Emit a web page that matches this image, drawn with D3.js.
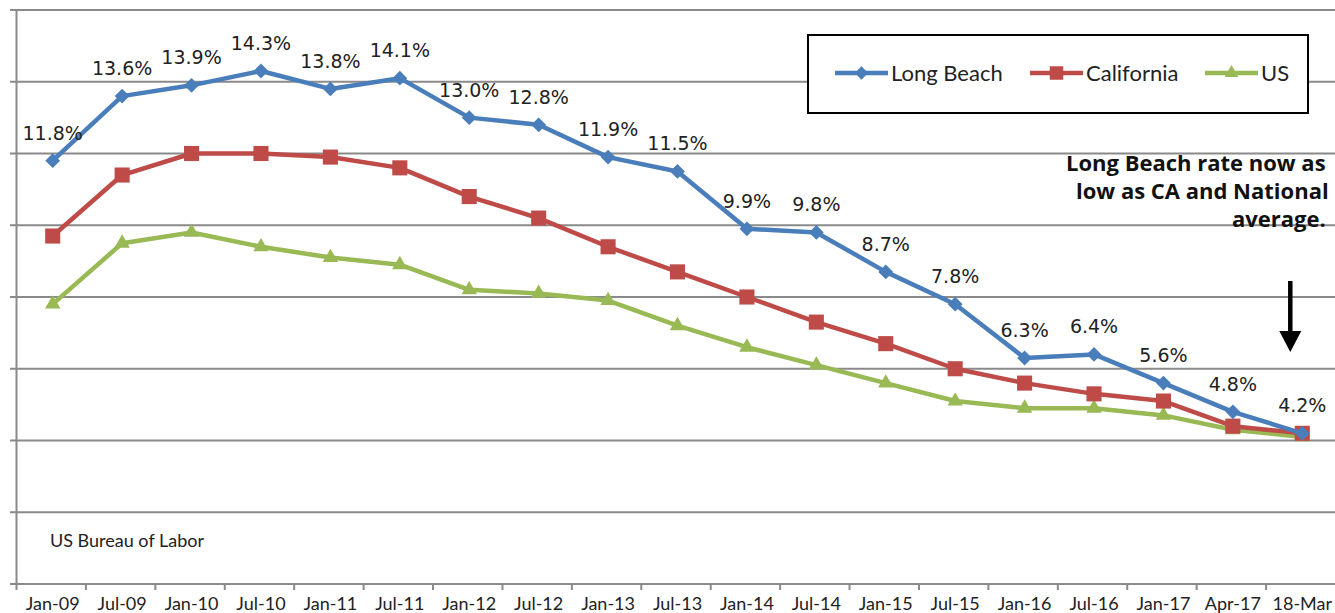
<!DOCTYPE html>
<html>
<head>
<meta charset="utf-8">
<script src="https://cdnjs.cloudflare.com/ajax/libs/d3/7.8.5/d3.min.js"></script>
<style>
  html, body { margin: 0; padding: 0; background: #fff; }
  svg { display: block; }
  .tick text { font-family: Lato, sans-serif; font-size: 18px; fill: #222; }
</style>
</head>
<body>
<div id="chart"></div>
<script>
// periods on the x axis
const periods = ['Jan-09','Jul-09','Jan-10','Jul-10','Jan-11','Jul-11','Jan-12','Jul-12','Jan-13','Jul-13',
    'Jan-14','Jul-14','Jan-15','Jul-15','Jan-16','Jul-16','Jan-17','Apr-17','18-Mar'];

// unemployment rate, %
const longBeach = [11.8,13.6,13.9,14.3,13.8,14.1,13.0,12.8,11.9,11.5,9.9,9.8,8.7,7.8,6.3,6.4,5.6,4.8,4.2];
const california = [9.7,11.4,12.0,12.0,11.9,11.6,10.8,10.2,9.4,8.7,8.0,7.3,6.7,6.0,5.6,5.3,5.1,4.4,4.2];
const us = [7.8,9.5,9.8,9.4,9.1,8.9,8.2,8.1,7.9,7.2,6.6,6.1,5.6,5.1,4.9,4.9,4.7,4.3,4.1];

const yTicks = [0,2,4,6,8,10,12,14,16];

const seriesList = [
    {name: 'Long Beach', values: longBeach, color: '#4A7EBB', symbol: d3.symbolDiamond2, size: 140},
    {name: 'California', values: california, color: '#BE4B48', symbol: d3.symbolSquare2, size: 290},
    {name: 'US', values: us, color: '#98B954', symbol: d3.symbolTriangle2, size: 170}
];

const noteLines = ['Long Beach rate now as', 'low as CA and National', 'average.'];

const width = 1335, height = 613;

const svg = d3.select('#chart').append('svg')
    .attr('width', width)
    .attr('height', height);

const x = d3.scaleBand().domain(periods).range([18, 1337]);
const y = d3.scaleLinear().domain([0, 16]).range([584, 10]);

/* gridlines */
svg.append('g')
    .selectAll('line')
    .data(yTicks.filter(d => d > 0))
    .join('line')
    .attr('x1', 10).attr('x2', width)
    .attr('y1', d => y(d)).attr('y2', d => y(d))
    .attr('stroke', '#8a8a8a')
    .attr('stroke-width', 2);

/* y axis line */
svg.append('line')
    .attr('x1', 16.5).attr('x2', 16.5)
    .attr('y1', y(16)).attr('y2', y(0))
    .attr('stroke', '#8a8a8a').attr('stroke-width', 2);

/* x axis */
const xAxis = svg.append('g')
    .attr('transform', `translate(0,${y(0)})`)
    .call(d3.axisBottom(x).tickSize(0).tickPadding(13));
xAxis.select('.domain').attr('stroke', '#8a8a8a').attr('stroke-width', 2)
    .attr('d', `M10,0H${width}`);
xAxis.append('g')
    .selectAll('line')
    .data(periods)
    .join('line')
    .attr('x1', d => x(d) - 1.5).attr('x2', d => x(d) - 1.5)
    .attr('y1', 0).attr('y2', 6)
    .attr('stroke', '#8a8a8a').attr('stroke-width', 2);

/* source */
svg.append('text')
    .attr('x', 50).attr('y', 547)
    .attr('font-family', 'Lato, sans-serif')
    .attr('font-size', 18)
    .attr('fill', '#222')
    .text('US Bureau of Labor');

const line = d3.line()
    .x((d, i) => x(periods[i]) + x.bandwidth() / 2)
    .y(d => y(d));

/* series, US drawn first so Long Beach sits on top */
seriesList.slice().reverse().forEach(s => {
    const g = svg.append('g');
    g.append('path')
        .datum(s.values)
        .attr('fill', 'none')
        .attr('stroke', s.color)
        .attr('stroke-width', 4.5)
        .attr('stroke-linejoin', 'round')
        .attr('d', line);
    g.selectAll('path.marker')
        .data(s.values)
        .join('path')
        .attr('class', 'marker')
        .attr('transform', (d, i) => `translate(${x(periods[i]) + x.bandwidth() / 2},${y(d)})`)
        .attr('d', d3.symbol(s.symbol, s.size))
        .attr('fill', s.color);
});

/* data labels for Long Beach */
svg.append('g')
    .selectAll('text')
    .data(longBeach)
    .join('text')
    .attr('x', (d, i) => x(periods[i]) + x.bandwidth() / 2)
    .attr('y', d => y(d) - 21)
    .attr('text-anchor', 'middle')
    .attr('font-family', '"DejaVu Sans", sans-serif')
    .attr('font-size', 19)
    .attr('fill', '#222')
    .text(d => d.toFixed(1) + '%');

/* legend */
const legend = svg.append('g');
legend.append('rect')
    .attr('x', 808).attr('y', 35)
    .attr('width', 500).attr('height', 78)
    .attr('fill', '#fff')
    .attr('stroke', '#000').attr('stroke-width', 2);
const legendX = [835, 1030, 1205];
seriesList.forEach((s, i) => {
    const item = legend.append('g').attr('transform', `translate(${legendX[i]},73)`);
    item.append('line')
        .attr('x1', 0).attr('x2', 53)
        .attr('stroke', s.color).attr('stroke-width', 4.5);
    item.append('path')
        .attr('transform', 'translate(26.5,0)')
        .attr('d', d3.symbol(s.symbol, s.size * 0.8))
        .attr('fill', s.color);
    item.append('text')
        .attr('x', 56).attr('dy', '0.35em')
        .attr('font-family', 'Lato, sans-serif')
        .attr('font-size', 22)
        .attr('fill', '#222')
        .text(s.name);
});

/* annotation, runs off the right edge like the original */
const note = svg.append('text')
    .attr('font-family', '"Open Sans", sans-serif')
    .attr('font-weight', 'bold')
    .attr('font-size', 22)
    .attr('fill', '#111');
const noteX = [1066, 1076, 1232];
noteLines.forEach((t, i) => {
    note.append('tspan').attr('x', noteX[i]).attr('y', 171 + i * 28).text(t);
});

/* arrow pointing at the latest value */
const ax = x('18-Mar') + x.bandwidth() / 2 - 12;
svg.append('line')
    .attr('x1', ax).attr('x2', ax)
    .attr('y1', 281).attr('y2', 334)
    .attr('stroke', '#000').attr('stroke-width', 4.5);
svg.append('path')
    .attr('d', `M${ax - 11},331L${ax + 11},331L${ax},352Z`)
    .attr('fill', '#000');
</script>
</body>
</html>
